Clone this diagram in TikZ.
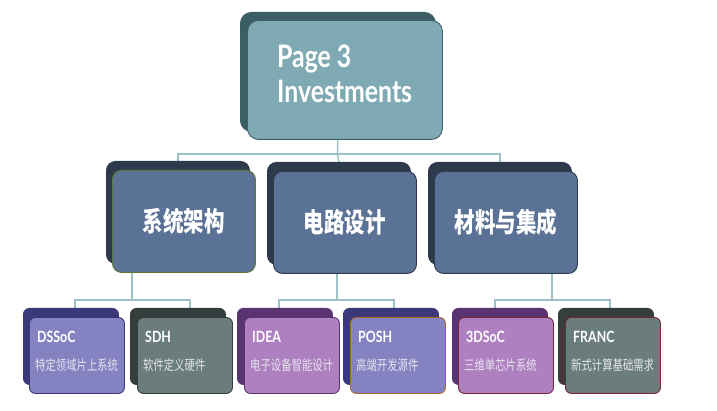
\documentclass[tikz,border=0pt]{standalone}
\usepackage{fontspec}
\setmainfont{Lato}[FakeStretch=0.8]
\newfontfamily\cjk{Noto Sans CJK SC}[FakeStretch=0.76]
\newfontfamily\cjksmall{Noto Sans CJK SC}[FakeStretch=0.74]
\definecolor{conncol}{HTML}{9DBFC7}
\definecolor{topfront}{HTML}{7FAAB3}
\definecolor{topback}{HTML}{3A5E64}
\definecolor{topedge}{HTML}{3F6066}
\definecolor{midfront}{HTML}{5A7295}
\definecolor{midback}{HTML}{2C3A4C}
\definecolor{midedge}{HTML}{2E3B50}
\definecolor{oliveedge}{HTML}{5E7A32}
\definecolor{bluefront}{HTML}{8582C2}
\definecolor{blueback}{HTML}{3A3878}
\definecolor{greyfront}{HTML}{6A7D7C}
\definecolor{greyback}{HTML}{343E3C}
\definecolor{purpfront}{HTML}{AF80C0}
\definecolor{purpback}{HTML}{5A3470}
\definecolor{orangeedge}{HTML}{A8672C}
\definecolor{redge}{HTML}{7A2438}
\definecolor{subtext}{HTML}{E4E4EE}
\begin{document}
\begin{tikzpicture}[x=1pt,y=-1pt,
  card/.style={rectangle, rounded corners=6pt, anchor=north west, inner sep=0pt, line width=0.9pt},
  topcard/.style={card, rounded corners=11pt, minimum width=195pt, minimum height=119pt},
  midcard/.style={card, rounded corners=9pt, minimum width=143pt, minimum height=102pt},
  leafcard/.style={card, minimum width=95pt, minimum height=76pt},
  conn/.style={draw=conncol, line width=1.4pt},
  toptext/.style={anchor=base west, inner sep=0pt, text=white, font=\fontsize{31}{33}\selectfont\bfseries},
  midtext/.style={inner sep=0pt, text=white, font=\cjk\fontsize{27}{30}\selectfont\bfseries},
  leaftitle/.style={anchor=base west, inner sep=0pt, text=white, font=\fontsize{15.5}{18}\selectfont\bfseries},
  leafsub/.style={anchor=west, inner sep=0pt, text=subtext, font=\cjksmall\fontsize{14}{16}\selectfont},
]
\useasboundingbox (0,0) rectangle (717,411);

% ---- connector junctions ----
\coordinate (jt) at (337.5,154);
\coordinate (ja) at (132,300);
\coordinate (ja1) at (75,300);
\coordinate (ja2) at (190,300);
\coordinate (jb) at (337,300);
\coordinate (jb1) at (279,300);
\coordinate (jb2) at (394,300);
\coordinate (jc) at (552,300);
\coordinate (jc1) at (495,300);
\coordinate (jc2) at (610,300);

% ---- card outlines for connector anchoring ----
\path (240,12) node[topcard] (topB) {}
      (106,161) node[midcard] (aB) {}
      (267,162) node[midcard] (bB) {}
      (428,162) node[midcard] (cB) {}
      (23,308) node[leafcard] (d1B) {}
      (130,308) node[leafcard] (d2B) {}
      (237,308) node[leafcard] (d3B) {}
      (343,308) node[leafcard] (d4B) {}
      (452,308) node[leafcard] (d5B) {}
      (558,308) node[leafcard] (d6B) {};
\draw[conn] (topB.south) -- (jt);
\draw[conn] (aB.north) |- (jt) -| (cB.north);
\draw[conn] (jt) -- (bB.north);
\draw[conn] (ja |- aB.south) -- (ja);
\draw[conn] (ja1 |- d1B.north) -- (ja1) -- (ja2) -- (ja2 |- d2B.north);
\draw[conn] (jb |- bB.south) -- (jb);
\draw[conn] (jb1 |- d3B.north) -- (jb1) -- (jb2) -- (jb2 |- d4B.north);
\draw[conn] (jc |- cB.south) -- (jc);
\draw[conn] (jc1 |- d5B.north) -- (jc1) -- (jc2) -- (jc2 |- d6B.north);

% ---- back cards ----
\node[topcard, fill=topback, draw=topback] (topBk) at (topB.north west) {};
\node[midcard, fill=midback, draw=midback] (aBk) at (aB.north west) {};
\node[midcard, fill=midback, draw=midback] (bBk) at (bB.north west) {};
\node[midcard, fill=midback, draw=midback] (cBk) at (cB.north west) {};
\node[leafcard, fill=blueback, draw=blueback] (d1Bk) at (d1B.north west) {};
\node[leafcard, fill=greyback, draw=greyback] (d2Bk) at (d2B.north west) {};
\node[leafcard, fill=purpback, draw=purpback] (d3Bk) at (d3B.north west) {};
\node[leafcard, fill=blueback, draw=blueback] (d4Bk) at (d4B.north west) {};
\node[leafcard, fill=purpback, draw=purpback] (d5Bk) at (d5B.north west) {};
\node[leafcard, fill=greyback, draw=greyback] (d6Bk) at (d6B.north west) {};

% ---- front cards ----
\node[topcard, fill=topfront, draw=topedge] (top) at (247,20) {};
\node[midcard, fill=midfront, draw=oliveedge] (a) at (112,170) {};
\node[midcard, fill=midfront, draw=midedge] (b) at (273,171) {};
\node[midcard, fill=midfront, draw=midedge] (c) at (434,171) {};
\node[leafcard, fill=bluefront, draw=blueback] (d1) at (29,317) {};
\node[leafcard, fill=greyfront, draw=greyback] (d2) at (137,317) {};
\node[leafcard, fill=purpfront, draw=purpback] (d3) at (244,317) {};
\node[leafcard, fill=bluefront, draw=orangeedge] (d4) at (350,317) {};
\node[leafcard, fill=purpfront, draw=redge] (d5) at (458,317) {};
\node[leafcard, fill=greyfront, draw=redge] (d6) at (565,317) {};

% ---- texts ----
\node[toptext] (t1) at (277,68) {Page 3};
\node[toptext] (t2) at (277,103) {Investments};
\node[midtext] (ta) at (a.center) {系统架构};
\node[midtext] (tb) at (b.center) {电路设计};
\node[midtext] (tc) at (c.center) {材料与集成};

\node[leaftitle] (l1) at ([xshift=8pt]d1.north west |- 0,342) {DSSoC};
\node[leaftitle] (l2) at ([xshift=8pt]d2.north west |- 0,342) {SDH};
\node[leaftitle] (l3) at ([xshift=8pt]d3.north west |- 0,342) {IDEA};
\node[leaftitle] (l4) at ([xshift=8pt]d4.north west |- 0,342) {POSH};
\node[leaftitle] (l5) at ([xshift=8pt]d5.north west |- 0,342) {3DSoC};
\node[leaftitle] (l6) at ([xshift=8pt]d6.north west |- 0,342) {FRANC};

\node[leafsub] (s1) at ([xshift=6pt]d1.north west |- 0,365) {特定领域片上系统};
\node[leafsub] (s2) at ([xshift=6pt]d2.north west |- 0,365) {软件定义硬件};
\node[leafsub] (s3) at ([xshift=6pt]d3.north west |- 0,365) {电子设备智能设计};
\node[leafsub] (s4) at ([xshift=6pt]d4.north west |- 0,365) {高端开发源件};
\node[leafsub] (s5) at ([xshift=6pt]d5.north west |- 0,365) {三维单芯片系统};
\node[leafsub] (s6) at ([xshift=6pt]d6.north west |- 0,365) {新式计算基础需求};
\end{tikzpicture}
\end{document}
